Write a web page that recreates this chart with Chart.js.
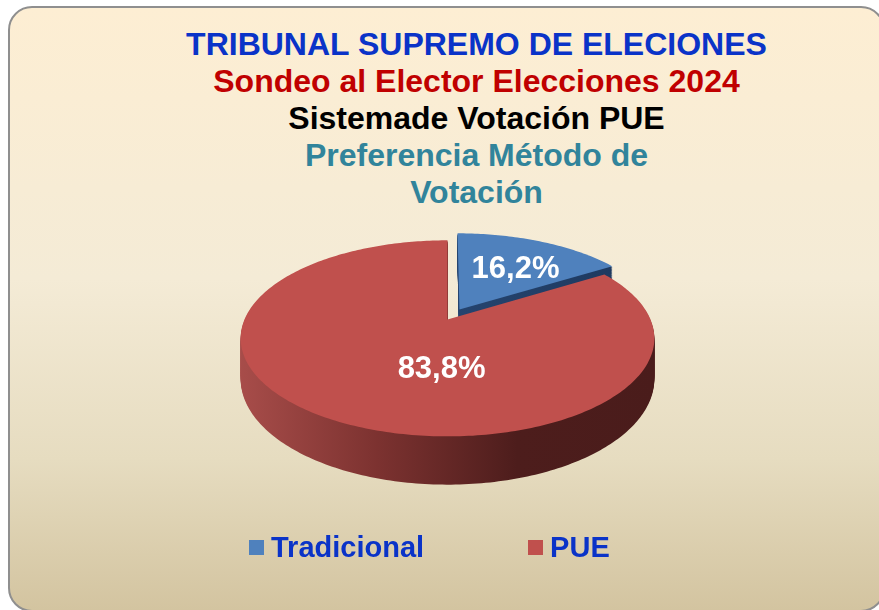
<!DOCTYPE html>
<html lang="es">
<head>
<meta charset="utf-8">
<title>Preferencia Método de Votación</title>
<script src="https://cdn.jsdelivr.net/npm/chart.js@4.4.1/dist/chart.umd.min.js"></script>
<style>
  html, body { margin: 0; padding: 0; background: #fff; }
  body { width: 879px; height: 610px; position: relative; overflow: hidden;
         font-family: "Liberation Sans", Arial, sans-serif; }
  .panel { position: absolute; left: 8px; top: 6px; width: 877px; height: 606px; box-sizing: border-box;
           border: 2px solid #8f8f8f; border-radius: 24px;
           background: linear-gradient(to bottom, #fdeed3 0%, #f4ebd6 45%, #e6dcc0 75%, #d3c4a0 100%); }
  #titulo { position: absolute; left: 0; top: 26px; width: 953px; text-align: center;
            font-weight: bold; font-size: 32px; line-height: 37px; }
  #grafico { position: absolute; left: 0; top: 0; }
  #leyenda { position: absolute; left: 249px; top: 533px; display: flex; gap: 104px;
             font-weight: bold; font-size: 29px; line-height: 29px; color: #0a33c8; }
  #leyenda .item { display: flex; align-items: center; }
  #leyenda .caja { width: 15px; height: 15px; margin-right: 7px; }
</style>
</head>
<body>
<div class="panel"></div>
<div id="titulo"></div>
<canvas id="grafico" width="879" height="610"></canvas>
<div id="leyenda"></div>
<script>
// --- datos ---
const titleLines = ['TRIBUNAL SUPREMO DE ELECIONES', 'Sondeo al Elector Elecciones 2024',
    'Sistemade Votación PUE', 'Preferencia Método de', 'Votación'];
const titleColors = ['#0a33c8', '#c00000', '#000000', '#31849b', '#31849b'];
const categories = ['Tradicional', 'PUE'];
const values = [16.2, 83.8];

// --- estilos ---
const topColors = ['#4f81bd', '#c0504d'];
const sideColors = [['#2e5283', '#1d375c'], ['#a84d4a', '#7c3230', '#4d1d1c', '#4a1c1b']];
const explode = [25, 0];
const DIST = 5.2;   // distancia de la cámara, en radios
const TILT = 0.465; // inclinación del plano
const DEPTH = 39;   // grosor del pastel

// titulo y leyenda como texto html
const titulo = document.getElementById('titulo');
titleLines.forEach((t, i) => {
    const d = document.createElement('div');
    d.textContent = t;
    d.style.color = titleColors[i];
    titulo.appendChild(d);
});
const leyenda = document.getElementById('leyenda');
categories.forEach((c, i) => {
    const it = document.createElement('div');
    it.className = 'item';
    it.innerHTML = `<span class="caja" style="background:${topColors[i]}"></span><span>${c}</span>`;
    leyenda.appendChild(it);
});

function project(s, x3, y3, h, dist) {
    const f = dist / (dist - y3);
    return [s.x + x3 * f, s.y + (y3 * TILT + h) * f];
}

function facePoints(s, h, dist) {
    const pts = [project(s, s.ox, s.oy, h, dist)];
    const steps = Math.max(2, Math.ceil((s.endAngle - s.startAngle) / (Math.PI / 180)));
    for (let k = 0; k <= steps; k++) {
        const a = s.startAngle + (s.endAngle - s.startAngle) * k / steps;
        pts.push(project(s, s.ox + s.outerRadius * Math.cos(a), s.oy + s.outerRadius * Math.sin(a), h, dist));
    }
    return pts;
}

function fillPoly(ctx, pts, fill) {
    ctx.beginPath();
    pts.forEach((p, k) => k ? ctx.lineTo(p[0], p[1]) : ctx.moveTo(p[0], p[1]));
    ctx.closePath();
    ctx.fillStyle = fill;
    ctx.fill();
}

// centro de la parte visible de cada porción (tapa + lateral)
function visibleCenters(order, dist, w, h) {
    const pal = [[255, 0, 0], [0, 255, 0], [0, 0, 255]];
    const c = document.createElement('canvas');
    c.width = w; c.height = h;
    const g = c.getContext('2d');
    order.forEach(s => {
        const col = 'rgb(' + pal[s.i % 3].join(',') + ')';
        for (let d = DEPTH; d >= 0; d -= 1) fillPoly(g, facePoints(s, d, dist), col);
    });
    const px = g.getImageData(0, 0, w, h).data;
    const sums = pal.map(() => [0, 0, 0]);
    for (let y = 0; y < h; y++) {
        for (let x = 0; x < w; x++) {
            const o = (y * w + x) * 4;
            if (px[o + 3] < 128) continue;
            const k = px[o] > 128 ? 0 : px[o + 1] > 128 ? 1 : px[o + 2] > 128 ? 2 : -1;
            if (k < 0) continue;
            sums[k][0] += x; sums[k][1] += y; sums[k][2] += 1;
        }
    }
    const out = {};
    order.forEach(s => {
        const t = sums[s.i % 3];
        out[s.i] = [t[0] / t[2], t[1] / t[2]];
    });
    return out;
}

// dibuja el pastel 3D a partir de los arcos que calcula Chart.js
const pie3d = {
    id: 'pie3d',
    beforeDatasetsDraw(chart) {
        const ctx = chart.ctx;
        const meta = chart.getDatasetMeta(0);
        const slices = meta.data.map((arc, i) => {
            const p = arc.getProps(['x', 'y', 'startAngle', 'endAngle', 'outerRadius'], true);
            const mid = (p.startAngle + p.endAngle) / 2;
            const off = arc.options.offset || 0;
            return Object.assign({ i, mid, ox: Math.cos(mid) * off, oy: Math.sin(mid) * off }, p);
        });
        if (!slices.length) return false;
        const r = slices[0].outerRadius;
        const dist = DIST * r;
        // primero las porciones del fondo
        const order = slices.slice().sort((a, b) => Math.sin(a.mid) - Math.sin(b.mid));
        ctx.save();
        order.forEach(s => {
            const g = ctx.createLinearGradient(s.x - r * 1.03, 0, s.x + r * 1.03, 0);
            const cols = sideColors[s.i];
            cols.forEach((c, k) => g.addColorStop(k / (cols.length - 1), c));
            for (let h = DEPTH; h >= 1; h -= 1) {
                fillPoly(ctx, facePoints(s, h, dist), g);
            }
            fillPoly(ctx, facePoints(s, 0, dist), topColors[s.i]);
        });
        // etiquetas de datos
        const centers = visibleCenters(order, dist, chart.width, chart.height);
        ctx.font = 'bold 31px "Liberation Sans", Arial, sans-serif';
        ctx.fillStyle = '#ffffff';
        ctx.textAlign = 'center';
        ctx.textBaseline = 'middle';
        slices.forEach(s => {
            const [lx, ly] = centers[s.i];
            ctx.fillText(values[s.i].toFixed(1).replace('.', ',') + '%', lx, ly);
        });
        ctx.restore();
        return false;
    }
};

new Chart(document.getElementById('grafico'), {
    type: 'pie',
    data: {
        labels: categories,
        datasets: [{
            data: values,
            backgroundColor: topColors,
            borderWidth: 0,
            offset: explode,
            hoverOffset: 0
        }]
    },
    options: {
        responsive: false,
        animation: false,
        devicePixelRatio: 1,
        layout: { padding: { left: 232, right: 216, top: 104, bottom: 75 } },
        plugins: {
            legend: { display: false },
            title: { display: false },
            tooltip: { enabled: true }
        }
    },
    plugins: [pie3d]
});
</script>
</body>
</html>
